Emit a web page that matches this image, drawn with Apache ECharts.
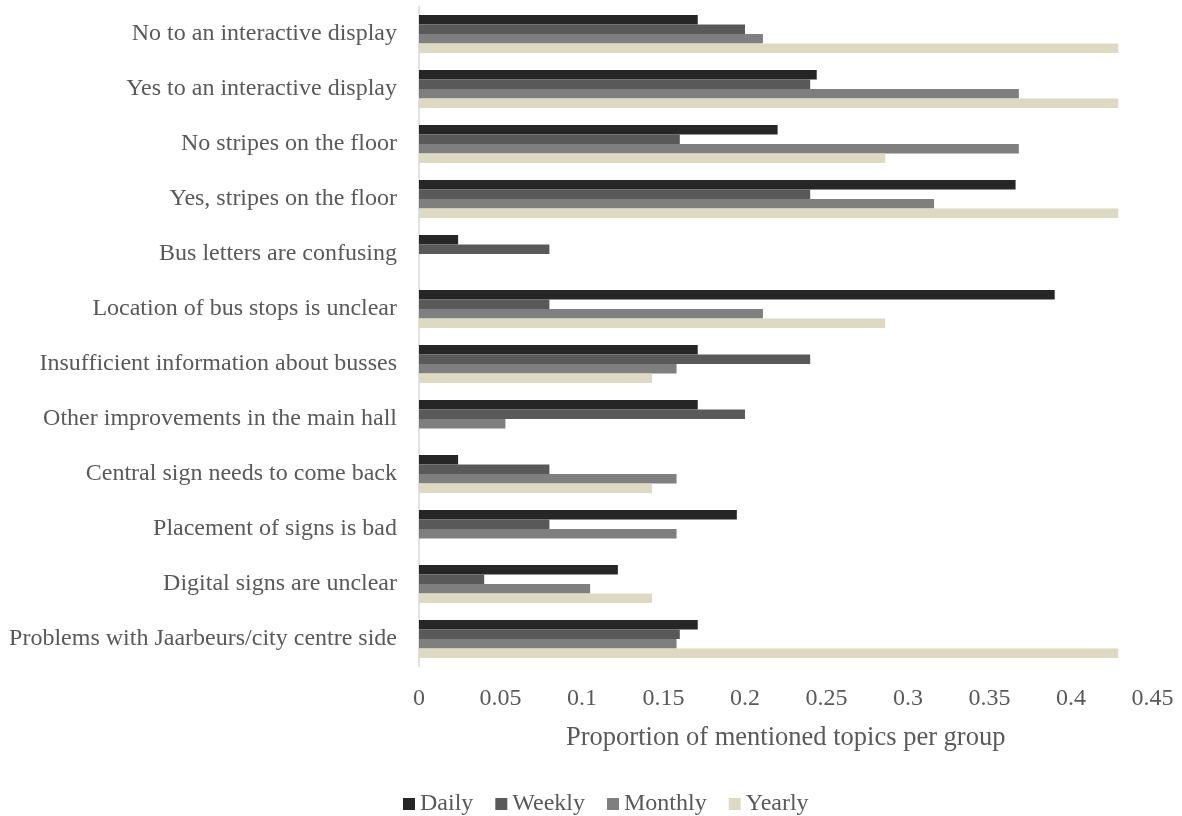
<!DOCTYPE html>
<html>
<head>
<meta charset="utf-8">
<title>Proportion of mentioned topics per group</title>
<script src="https://cdn.jsdelivr.net/npm/echarts@6/dist/echarts.min.js"></script>
<style>
  html, body { margin: 0; padding: 0; background: #ffffff; }
  #chart { width: 1182px; height: 816px; }
</style>
</head>
<body>
<div id="chart"></div>
<script>
// Topics, listed top to bottom
const topics = [
  'No to an interactive display',
  'Yes to an interactive display',
  'No stripes on the floor',
  'Yes, stripes on the floor',
  'Bus letters are confusing',
  'Location of bus stops is unclear',
  'Insufficient information about busses',
  'Other improvements in the main hall',
  'Central sign needs to come back',
  'Placement of signs is bad',
  'Digital signs are unclear',
  'Problems with Jaarbeurs/city centre side'
];

// Proportion of mentioned topics, per visiting-frequency group
const daily   = [0.171, 0.244, 0.220, 0.366, 0.024, 0.390, 0.171, 0.171, 0.024, 0.195, 0.122, 0.171];
const weekly  = [0.200, 0.240, 0.160, 0.240, 0.080, 0.080, 0.240, 0.200, 0.080, 0.080, 0.040, 0.160];
const monthly = [0.211, 0.368, 0.368, 0.316, 0,     0.211, 0.158, 0.053, 0.158, 0.158, 0.105, 0.158];
const yearly  = [0.429, 0.429, 0.286, 0.429, 0,     0.286, 0.143, 0,     0.143, 0,     0.143, 0.429];

const groupNames = ['Daily', 'Weekly', 'Monthly', 'Yearly'];
const groupValues = [daily, weekly, monthly, yearly];
const groupColors = ['#262626', '#595959', '#7f7f7f', '#ddd9c3'];

const xTicks = { min: 0, max: 0.45, step: 0.05 };

const font = '"Liberation Serif", "Times New Roman", Times, serif';
const textColor = '#595959';

const chart = echarts.init(document.getElementById('chart'), null, { renderer: 'canvas' });

chart.setOption({
  animation: false,
  textStyle: { fontFamily: font, color: textColor },
  grid: { left: 419, right: 29.5, top: 6.5, bottom: 149.5, containLabel: false },
  legend: {
    data: groupNames,
    left: 398,
    top: 787,
    itemWidth: 12,
    itemHeight: 12,
    itemGap: 22,
    icon: 'rect',
    textStyle: { fontFamily: font, fontSize: 24, color: textColor, padding: [0, 0, 0, 0] }
  },
  xAxis: {
    type: 'value',
    min: xTicks.min,
    max: xTicks.max,
    interval: xTicks.step,
    name: 'Proportion of mentioned topics per group',
    nameLocation: 'middle',
    nameGap: 58,
    nameTextStyle: { fontFamily: font, fontSize: 26.5, color: textColor },
    axisLine: { show: false },
    axisTick: { show: false },
    splitLine: { show: false },
    axisLabel: { fontFamily: font, fontSize: 24, color: textColor, margin: 20 }
  },
  yAxis: {
    type: 'category',
    data: topics,
    inverse: true,
    axisLine: { show: true, lineStyle: { color: '#d9d9d9', width: 1.5 } },
    axisTick: { show: false },
    splitLine: { show: false },
    axisLabel: { fontFamily: font, fontSize: 24, color: textColor, margin: 22 }
  },
  series: groupNames.map((name, i) => ({
    name: name,
    type: 'bar',
    data: groupValues[i],
    barGap: '0%',
    barCategoryGap: '31%',
    itemStyle: { color: groupColors[i] }
  }))
});
</script>
</body>
</html>
